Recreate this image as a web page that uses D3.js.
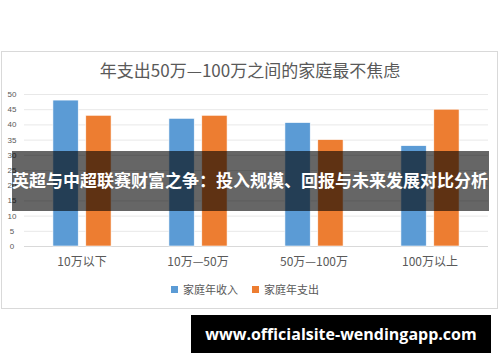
<!DOCTYPE html>
<html>
<head>
<meta charset="utf-8">
<script src="https://cdn.jsdelivr.net/npm/d3@7"></script>
<style>
	body { margin: 0; background: #fff; }
	svg { display: block; font-family: "Noto Sans CJK SC", "Noto Sans", sans-serif; }
</style>
</head>
<body>
<svg width="500" height="362"></svg>
<script>
// data
var categories = ["10万以下", "10万—50万", "50万—100万", "100万以上"];
var seriesNames = ["家庭年收入", "家庭年支出"];
var income = [48, 42, 40.6, 33];
var spending = [43, 43, 35, 45];
var yTicks = [0, 5, 10, 15, 20, 25, 30, 35, 40, 45, 50];
var title = "年支出50万—100万之间的家庭最不焦虑";
var banner = "英超与中超联赛财富之争：投入规模、回报与未来发展对比分析";
var watermark = "www.officialsite-wendingapp.com";

var colors = ["#5b9bd5", "#ed7d31"];

var svg = d3.select("svg");

// chart frame
svg.append("rect")
	.attr("x", 1.5).attr("y", 51.5)
	.attr("width", 496).attr("height", 257)
	.attr("fill", "#fff")
	.attr("stroke", "#d9d9d9");

svg.append("text")
	.attr("x", 250).attr("y", 77)
	.attr("text-anchor", "middle")
	.attr("fill", "#595959")
	.style("font-size", "17px")
	.text(title);

var margin = {left: 24, right: 12, top: 94, bottom: 116},
	width = 500 - margin.left - margin.right,
	height = 362 - margin.top - margin.bottom;

var g = svg.append("g")
	.attr("transform", "translate(" + margin.left + "," + margin.top + ")");

var x = d3.scaleBand()
	.domain(categories)
	.range([0, width]);

var x1 = d3.scaleBand()
	.domain(seriesNames)
	.range([0, x.bandwidth()])
	.paddingInner(0.23)
	.paddingOuter(0.88);

var y = d3.scaleLinear()
	.domain([0, 50])
	.range([height, 0]);

// gridlines
g.append("g")
	.selectAll("line")
	.data(yTicks)
	.join("line")
	.attr("x1", 0).attr("x2", width)
	.attr("y1", function(d) { return y(d) + 0.5; })
	.attr("y2", function(d) { return y(d) + 0.5; })
	.attr("stroke", function(d) { return d === 0 ? "#d9d9d9" : "#e8e8e8"; });

// y axis labels
g.append("g")
	.attr("class", "axis axis--y")
	.call(d3.axisLeft(y).tickValues(yTicks).tickSize(0).tickPadding(7))
	.call(function(a) { a.select(".domain").remove(); })
	.selectAll("text")
	.attr("fill", "#595959")
	.style("font-size", "8px")
	.style("font-family", "Liberation Sans, sans-serif")
	.attr("text-anchor", "middle")
	.attr("x", -12);

// bars
var rows = categories.map(function(c, i) {
	return {cat: c, values: [income[i], spending[i]]};
});

var groups = g.append("g")
	.selectAll("g")
	.data(rows)
	.join("g")
	.attr("transform", function(d) { return "translate(" + x(d.cat) + ",0)"; });

groups.selectAll("rect")
	.data(function(d) { return d.values.map(function(v, j) { return {name: seriesNames[j], value: v, j: j}; }); })
	.join("rect")
	.attr("x", function(d) { return x1(d.name); })
	.attr("width", x1.bandwidth())
	.attr("y", function(d) { return y(d.value); })
	.attr("height", function(d) { return height - y(d.value); })
	.attr("fill", function(d) { return colors[d.j]; })
	.attr("stroke", "#fff")
	.attr("stroke-width", 0.6);

// x axis labels
g.append("g")
	.attr("class", "axis axis--x")
	.attr("transform", "translate(0," + height + ")")
	.call(d3.axisBottom(x).tickSize(0).tickPadding(11))
	.call(function(a) { a.select(".domain").remove(); })
	.selectAll("text")
	.attr("fill", "#595959")
	.style("font-size", "12px")
	.style("font-family", "Noto Sans CJK SC, sans-serif");

// legend
var legend = svg.append("g").attr("transform", "translate(171,290)");
var lx = [0, 81];
seriesNames.forEach(function(n, i) {
	legend.append("rect")
		.attr("x", lx[i]).attr("y", -4)
		.attr("width", 7).attr("height", 7)
		.attr("fill", colors[i]);
	legend.append("text")
		.attr("x", lx[i] + 12).attr("y", 4)
		.attr("fill", "#595959")
		.style("font-size", "11px")
		.text(n);
});

// overlay banner
svg.append("rect")
	.attr("x", 12).attr("y", 151)
	.attr("width", 477).attr("height", 60)
	.attr("fill", "rgba(0,0,0,0.6)");

svg.append("text")
	.attr("x", 250).attr("y", 187)
	.attr("text-anchor", "middle")
	.attr("fill", "#fff")
	.style("font-size", "17px")
	.style("font-weight", "bold")
	.text(banner);

// watermark
svg.append("rect")
	.attr("x", 191).attr("y", 315)
	.attr("width", 300).attr("height", 38)
	.attr("fill", "#000");

svg.append("text")
	.attr("x", 341).attr("y", 340)
	.attr("text-anchor", "middle")
	.attr("fill", "#fff")
	.style("font-size", "16px")
	.style("font-weight", "bold")
	.style("font-family", "Open Sans, sans-serif")
	.text(watermark);
</script>
</body>
</html>
